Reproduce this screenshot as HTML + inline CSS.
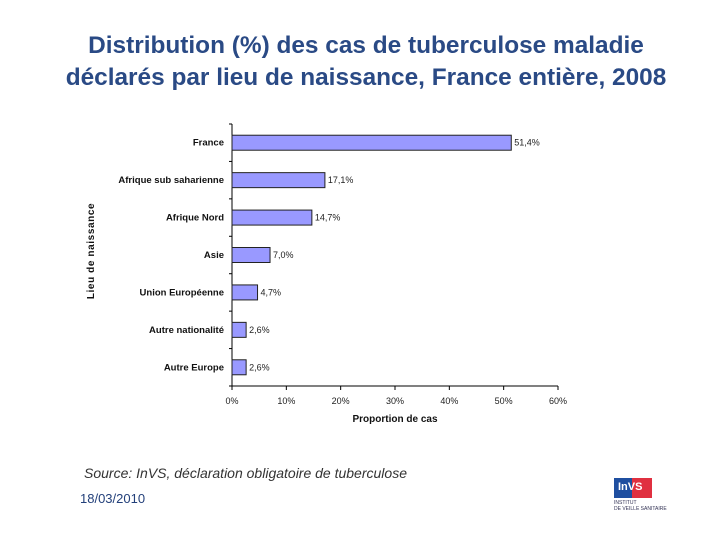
<!DOCTYPE html>
<html><head><meta charset="utf-8"><style>
body{margin:0;width:720px;height:540px;background:#fff;font-family:"Liberation Sans",Arial,sans-serif;position:relative;overflow:hidden}
.t{position:absolute;left:6px;width:720px;text-align:center;color:#2a4a85;font-weight:bold;font-size:24.4px;line-height:32px}
</style></head><body>
<div class="t" style="top:30px">Distribution (%) des cas de tuberculose maladie<br>déclarés par lieu de naissance, France entière, 2008</div>
<svg id="c" width="720" height="540" style="position:absolute;left:0;top:0"></svg>
<div style="position:absolute;left:84px;top:465px;font-size:14px;font-style:italic;color:#333">Source: InVS, déclaration obligatoire de tuberculose</div>
<div style="position:absolute;left:80px;top:491px;font-size:13px;color:#23407a">18/03/2010</div>
<div style="position:absolute;left:614px;top:478px;width:38px;height:20px">
<div style="position:absolute;left:0;top:0;width:18px;height:20px;background:#1f4fa0"></div>
<div style="position:absolute;left:18px;top:0;width:20px;height:20px;background:#e03040"></div>
<div style="position:absolute;left:4px;top:3px;font-size:11px;color:#fff;font-weight:bold">InVS</div>
<div style="position:absolute;left:0;top:22px;font-size:5px;color:#335;width:60px">INSTITUT<br>DE VEILLE SANITAIRE</div>
</div>
<script>
const categories=["France","Afrique sub saharienne","Afrique Nord","Asie","Union Européenne","Autre nationalité","Autre Europe"];
const values=[51.4,17.1,14.7,7.0,4.7,2.6,2.6];
const valueLabels=["51,4%","17,1%","14,7%","7,0%","4,7%","2,6%","2,6%"];
const ticks=[0,10,20,30,40,50,60];
const svg=document.getElementById('c');const NS='http://www.w3.org/2000/svg';
const x0=232,x1=558,yTop=124,yBot=386;
const xs=v=>x0+(x1-x0)*v/60;
const band=(yBot-yTop)/categories.length;
const yc=i=>yTop+band*(i+0.5);
function mk(t,a,txt){const e=document.createElementNS(NS,t);for(const k in a)e.setAttribute(k,a[k]);if(txt!=null)e.textContent=txt;svg.appendChild(e);return e;}
let e=mk('line',{x1:x0,y1:yTop,x2:x0,y2:yBot,stroke:'#000','stroke-width':1});

e=mk('line',{x1:x0,y1:yBot,x2:x1,y2:yBot,stroke:'#000','stroke-width':1});

for(let i=0;i<=categories.length;i++){mk('line',{x1:x0-3,y1:yTop+band*i,x2:x0,y2:yTop+band*i,stroke:'#000'});}
ticks.forEach(t=>{mk('line',{x1:xs(t),y1:yBot,x2:xs(t),y2:yBot+4,stroke:'#000'});
e=mk('text',{x:xs(t),y:yBot+18,'font-size':9,'text-anchor':'middle',fill:'#222'},t+'%');
});
categories.forEach((c,i)=>{
e=mk('rect',{x:x0,y:yc(i)-7.5,width:xs(values[i])-x0,height:15,fill:'#9999ff',stroke:'#222','stroke-width':1});

e=mk('text',{x:x0-8,y:yc(i)+3,'font-size':9.5,'font-weight':'bold','text-anchor':'end',fill:'#111'},c);

e=mk('text',{x:xs(values[i])+3,y:yc(i)+3,'font-size':9,fill:'#222'},valueLabels[i]);

});
e=mk('text',{x:395,y:422,'font-size':10,'font-weight':'bold','text-anchor':'middle',fill:'#111'},'Proportion de cas');

e=mk('text',{x:0,y:0,'font-size':10,'font-weight':'bold','text-anchor':'middle',fill:'#111',transform:'translate(94,251) rotate(-90)','letter-spacing':'0.6'},'Lieu de naissance');

</script>
</body></html>
